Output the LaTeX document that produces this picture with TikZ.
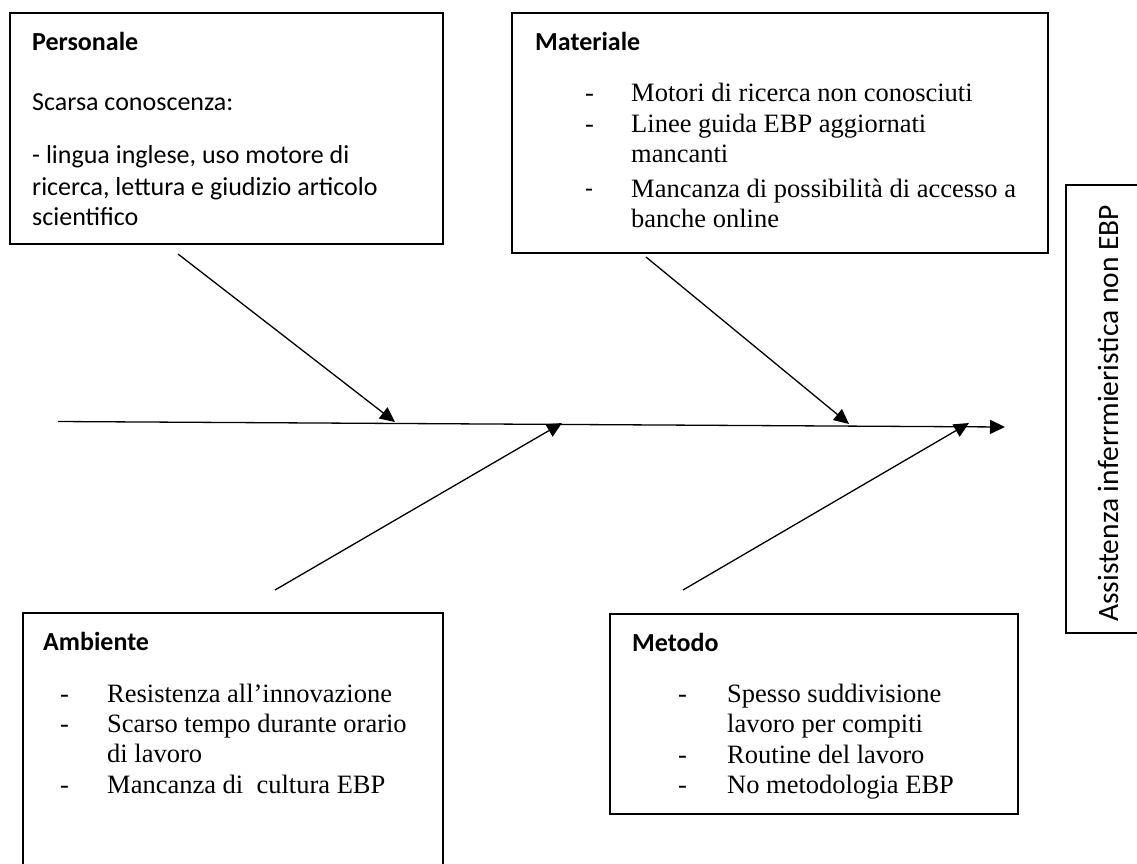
\documentclass[tikz,border=0pt]{standalone}
\usepackage{fontspec}
\setmainfont{Liberation Serif}
\newfontfamily\calfont{Carlito}
\usetikzlibrary{arrows.meta}
\begin{document}
\begin{tikzpicture}[x=1pt,y=-1pt,
  box/.style={draw,line width=1.4pt,inner sep=0pt,outer sep=0pt,anchor=north west},
  hd/.style={anchor=base west,inner sep=0pt,font=\calfont\bfseries\fontsize{26}{31}\selectfont},
  ctxt/.style={anchor=base west,inner sep=0pt,font=\calfont\fontsize{26}{31}\selectfont},
  efftxt/.style={anchor=base west,inner sep=0pt,rotate=90,font=\calfont\fontsize{29.5}{34}\selectfont},
  ttxt/.style={anchor=base west,inner sep=0pt,font=\fontsize{26.5}{30}\selectfont},
  conn/.style={line width=1.3pt,-{Triangle[length=15pt,width=14pt]}}
]
\useasboundingbox (0,0) rectangle (1137,863);
\clip (0,0) rectangle (1137,863);

% boxes
\node[box,minimum width=433pt,minimum height=231pt] (pers) at (10,13) {};
\node[box,minimum width=536pt,minimum height=240pt] (mat) at (512,13) {};
\node[box,minimum width=420pt,minimum height=300pt] (amb) at (23,613) {};
\node[box,minimum width=408pt,minimum height=200pt] (met) at (610,614) {};
\node[box,minimum width=75pt,minimum height=448pt] (eff) at (1066,185) {};

% Personale
\node[hd] (persh) at (32,50) {Personale};
\node[ctxt] (pers1) at (32,110) {Scarsa conoscenza:};
\node[ctxt] (pers2) at (32,163) {- lingua inglese, uso motore di};
\node[ctxt] (pers3) at (32,195) {ricerca, lettura e giudizio articolo};
\node[ctxt] (pers4) at (32,225) {scientifico};

% Materiale
\node[hd] (math) at (535,50) {Materiale};
\node[ttxt] (matd1) at (585,101) {-};
\node[ttxt] (mat1) at (631,101) {Motori di ricerca non conosciuti};
\node[ttxt] (matd2) at (585,132) {-};
\node[ttxt] (mat2) at (631,132) {Linee guida EBP aggiornati};
\node[ttxt] (mat2b) at (631,162) {mancanti};
\node[ctxt] (matd3) at (585,197) {-};
\node[ttxt] (mat3) at (631,197) {Mancanza di possibilità di accesso a};
\node[ttxt] (mat3b) at (631,227) {banche online};

% Ambiente
\node[hd] (ambh) at (43,650) {Ambiente};
\node[ttxt] (ambd1) at (60,702) {-};
\node[ttxt] (amb1) at (107,702) {Resistenza all’innovazione};
\node[ttxt] (ambd2) at (60,732) {-};
\node[ttxt] (amb2) at (107,732) {Scarso tempo durante orario};
\node[ttxt] (amb2b) at (107,762) {di lavoro};
\node[ttxt] (ambd3) at (60,793) {-};
\node[ttxt] (amb3) at (107,793) {Mancanza di~~cultura EBP};

% Metodo
\node[hd] (meth) at (632,651) {Metodo};
\node[ttxt] (metd1) at (678,702) {-};
\node[ttxt] (met1) at (727,702) {Spesso suddivisione};
\node[ttxt] (met1b) at (727,732) {lavoro per compiti};
\node[ttxt] (metd2) at (678,763) {-};
\node[ttxt] (met2) at (727,763) {Routine del lavoro};
\node[ttxt] (metd3) at (678,793) {-};
\node[ttxt] (met3) at (727,793) {No metodologia EBP};

% effect
\node[efftxt] (efft) at (1118,622) {Assistenza inferrmieristica non EBP};

% connectors
\coordinate (spineS) at (58,421.5);
\coordinate (spineE) at (1005,427);
\coordinate (persS) at (178,254);
\coordinate (persE) at (395,422);
\coordinate (ambS) at (275,590);
\coordinate (ambE) at (562,423);
\coordinate (matS) at (646,257);
\coordinate (matE) at (849,424);
\coordinate (metS) at (683,590);
\coordinate (metE) at (969,423);

\draw[conn] (spineS) -- (spineE);
\draw[conn] (persS) -- (persE);
\draw[conn] (ambS) -- (ambE);
\draw[conn] (matS) -- (matE);
\draw[conn] (metS) -- (metE);
\end{tikzpicture}
\end{document}
